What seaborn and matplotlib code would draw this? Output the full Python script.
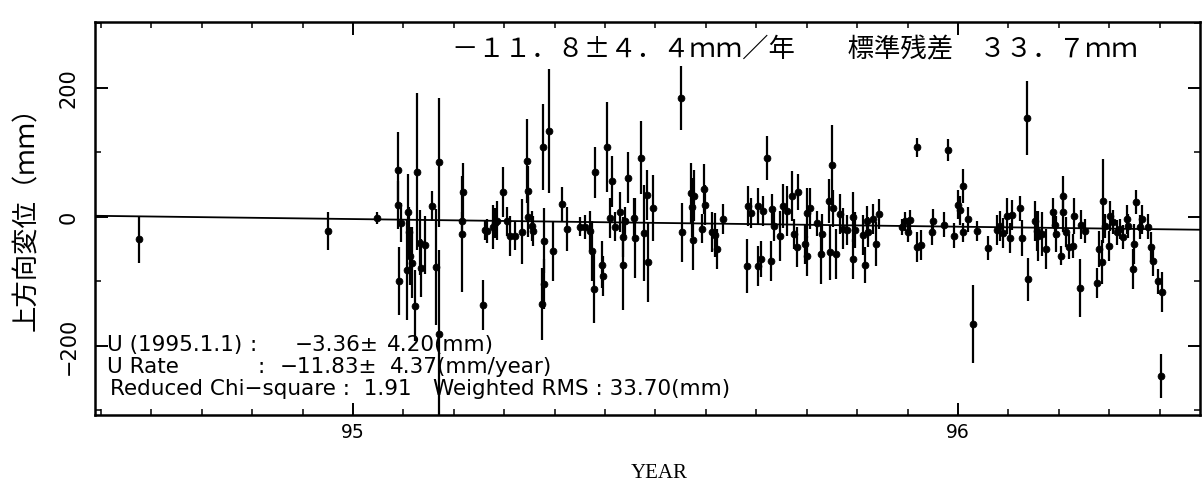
import matplotlib
matplotlib.use("Agg")
import matplotlib.pyplot as plt
import seaborn as sns
import pandas as pd
import numpy as np
from matplotlib.ticker import MultipleLocator, FixedLocator

# ---- data (decimal year, vertical displacement mm, 1-sigma error mm) ----
years = [94.646, 94.959, 95.040, 95.074, 95.075, 95.079, 95.076, 95.091, 95.093, 95.094,
         95.090, 95.098, 95.106, 95.102, 95.111, 95.112, 95.119, 95.131, 95.142, 95.137,
         95.142, 95.182, 95.180, 95.181, 95.215, 95.218, 95.221, 95.231, 95.235, 95.238,
         95.248, 95.255, 95.260, 95.268, 95.279, 95.288, 95.289, 95.290, 95.296, 95.298,
         95.314, 95.316, 95.315, 95.313, 95.324, 95.331, 95.345, 95.354, 95.375, 95.383,
         95.392, 95.400, 95.395, 95.398, 95.412, 95.413, 95.420, 95.428, 95.425, 95.433,
         95.441, 95.446, 95.447, 95.455, 95.449, 95.464, 95.466, 95.476, 95.481, 95.486,
         95.487, 95.496, 95.542, 95.543, 95.559, 95.560, 95.564, 95.562, 95.577, 95.580,
         95.582, 95.593, 95.598, 95.602, 95.612, 95.651, 95.653, 95.658, 95.669, 95.670,
         95.674, 95.678, 95.684, 95.693, 95.691, 95.696, 95.706, 95.711, 95.717, 95.726,
         95.729, 95.734, 95.736, 95.747, 95.750, 95.751, 95.755, 95.767, 95.774, 95.775,
         95.787, 95.792, 95.793, 95.788, 95.798, 95.805, 95.810, 95.817, 95.826, 95.827,
         95.830, 95.843, 95.846, 95.850, 95.851, 95.860, 95.864, 95.869, 95.907, 95.912,
         95.917, 95.921, 95.932, 95.932, 95.939, 95.957, 95.959, 95.977, 95.983, 95.993,
         96.000, 96.003, 96.008, 96.009, 96.017, 96.025, 96.031, 96.050, 96.064, 96.069,
         96.074, 96.081, 96.086, 96.089, 96.102, 96.106, 96.114, 96.116, 96.127, 96.131,
         96.132, 96.139, 96.145, 96.157, 96.162, 96.160, 96.170, 96.174, 96.174, 96.179,
         96.183, 96.190, 96.192, 96.202, 96.203, 96.210, 96.230, 96.233, 96.238, 96.240,
         96.243, 96.250, 96.251, 96.256, 96.263, 96.268, 96.273, 96.279, 96.281, 96.289,
         96.291, 96.294, 96.301, 96.304, 96.314, 96.319, 96.322, 96.331, 96.337, 96.336]

values = [-35, -22, -2, 72, 18, -9, -99, 7, -24, -60,
          -82, -71, 70, -138, -40, -79, -43, 17, 85, -78,
          -181, 38, -7, -27, -137, -21, -22, -15, -10, -6,
          39, -7, -29, -29, -23, 87, 40, 0, -14, -22,
          108, -37, -104, -135, 133, -53, 20, -19, -15, -16,
          -22, 69, -53, -111, -74, -92, 108, 55, -1, -15,
          8, -31, -74, 61, -7, -1, -32, 92, -25, 34,
          -70, 14, 184, -24, 37, 15, 33, -36, -18, 43,
          18, -24, -28, -49, -3, -76, 17, 6, 17, -76,
          -65, 9, 91, 12, -68, -14, -30, 17, 9, 32,
          -27, -46, 38, -42, 6, -60, 13, -10, -58, -26,
          24, 80, 13, -55, -57, 5, -18, -20, 0, -65,
          -20, -28, -74, -6, -23, -3, -42, 4, -16, -7,
          -24, -5, 108, -47, -44, -24, -7, -12, 103, -29,
          19, 10, 48, -24, -4, -166, -22, -48, -20, -14,
          -25, 1, -33, 3, 13, -33, 153, -97, -7, -22,
          -30, -27, -49, 7, -26, -13, -60, 33, 8, -23,
          -46, -45, 2, -110, -12, -22, -102, -50, -70, 25,
          -14, -45, 1, -8, -24, -19, -31, -4, -14, -80,
          -42, 23, -16, -4, -15, -47, -69, -100, -116, -246]

errors = [37, 30, 9, 60, 37, 30, 53, 60, 40, 45,
          78, 55, 122, 55, 50, 45, 45, 23, 100, 90,
          130, 45, 15, 90, 39, 15, 18, 34, 23, 30,
          39, 23, 31, 23, 50, 65, 39, 31, 23, 23,
          67, 50, 39, 56, 96, 46, 26, 34, 15, 19,
          31, 40, 46, 54, 36, 31, 70, 39, 31, 23,
          31, 31, 70, 39, 23, 31, 62, 56, 74, 39,
          62, 51, 50, 46, 46, 46, 39, 46, 23, 39,
          31, 31, 34, 31, 23, 42, 31, 23, 28, 31,
          28, 23, 34, 23, 31, 23, 39, 34, 39, 39,
          23, 31, 28, 31, 39, 31, 31, 19, 46, 31,
          34, 62, 28, 43, 39, 31, 31, 23, 39, 31,
          28, 31, 28, 23, 23, 23, 34, 23, 12, 15,
          15, 15, 15, 23, 23, 19, 19, 19, 17, 19,
          23, 23, 26, 15, 19, 60, 15, 19, 23, 23,
          23, 28, 23, 23, 19, 28, 57, 34, 31, 31,
          39, 34, 31, 23, 28, 19, 15, 31, 31, 23,
          19, 19, 28, 45, 23, 19, 23, 28, 34, 65,
          19, 23, 23, 19, 19, 15, 19, 23, 19, 31,
          31, 19, 19, 23, 19, 23, 23, 19, 31, 34]

# fit results shown in the annotation
u_epoch = 95.0
u_offset = -3.36
u_rate = -11.83

x_range = [94.5736, 96.40]
y_range = [-307, 302]
x_major = [95, 96]
x_tick_labels = ["95", "96"]
y_major = [-200, 0, 200]
y_tick_labels = ["\u2212200", "0", "200"]

title_text = "－１１．８±４．４ｍｍ／年　　標準残差　３３．７ｍｍ"
ylabel_text = "上方向変位（ｍｍ）"
xlabel_text = "YEAR"

df = pd.DataFrame({"year": years, "disp": values, "err": errors})
trend = pd.DataFrame({"year": x_range,
                      "disp": [u_offset + u_rate * (x - u_epoch) for x in x_range]})

# ---- plotting ----
sns.set_style("ticks")
plt.rcParams["font.family"] = ["DejaVu Sans", "Noto Sans CJK JP"]
plt.rcParams["axes.unicode_minus"] = True
plt.rcParams["text.color"] = "black"
plt.rcParams["xtick.color"] = "black"
plt.rcParams["ytick.color"] = "black"
plt.rcParams["xtick.labelcolor"] = "black"
plt.rcParams["ytick.labelcolor"] = "black"

fig = plt.figure(figsize=(12.02, 4.84), dpi=100)
ax = fig.add_axes([95 / 1202, 1 - 415 / 484, 1105 / 1202, 393 / 484])

ax.errorbar(df["year"], df["disp"], yerr=df["err"], fmt="none",
            ecolor="black", elinewidth=1.6, capsize=0, zorder=2)
sns.scatterplot(data=df, x="year", y="disp", ax=ax, color="black",
                s=24, edgecolor="black", linewidth=0.6, zorder=3, legend=False)
sns.lineplot(data=trend, x="year", y="disp", ax=ax, color="black",
             linewidth=1.3, zorder=1)

ax.set_xlim(*x_range)
ax.set_ylim(*y_range)
ax.set_xlabel("")
ax.set_ylabel("")

ax.xaxis.set_major_locator(FixedLocator(x_major))
ax.set_xticklabels(x_tick_labels, fontsize=13.5, color="black")
ax.xaxis.set_minor_locator(MultipleLocator(1 / 12))
ax.yaxis.set_major_locator(FixedLocator(y_major))
ax.set_yticklabels(y_tick_labels, fontsize=15, rotation=90, va="center", color="black")
ax.yaxis.set_minor_locator(MultipleLocator(100))

ax.tick_params(axis="both", which="major", direction="in", length=9, width=1.4,
               top=True, right=True, color="black")
ax.tick_params(axis="both", which="minor", direction="in", length=4, width=1.1,
               top=True, right=True, color="black")
ax.tick_params(axis="x", which="major", pad=6)
ax.tick_params(axis="y", which="major", pad=12)

for sp in ax.spines.values():
    sp.set_visible(True)
    sp.set_linewidth(1.8)
    sp.set_color("black")

# texts
ax.text(0.633, 0.93, title_text, transform=ax.transAxes, ha="center", va="center",
        fontsize=19, color="black", family=["Noto Sans CJK JP", "DejaVu Sans"])

def px_to_ax(px, py):
    return (px - 95) / 1105, (415 - py) / 393

fs = 15.5
lines = [
    [(107, "U (1995.1.1)"), (250, ":"), (295, "\u22123.36\u00b1"), (387, "4.20(mm)")],
    [(107, "U Rate"), (257, ":"), (280, "\u221211.83\u00b1"), (390, "4.37(mm/year)")],
    [(110, "Reduced Chi\u2212square :  1.91"), (433, "Weighted RMS : 33.70(mm)")],
]
for py, line in zip([345, 367, 389], lines):
    for px, s in line:
        x, y = px_to_ax(px, py)
        ax.text(x, y, s, transform=ax.transAxes, ha="left", va="center",
                fontsize=fs, color="black", family="DejaVu Sans")

fig.text(659 / 1202, 1 - 474 / 484, xlabel_text, ha="center", va="center",
         fontsize=15, color="black", family="Liberation Serif")
fig.text(27 / 1202, 1 - 212 / 484, ylabel_text, ha="center", va="center",
         rotation=90, fontsize=19, color="black",
         family=["Noto Sans CJK JP", "DejaVu Sans"])

fig.savefig("out.png", dpi=100, facecolor="white")
